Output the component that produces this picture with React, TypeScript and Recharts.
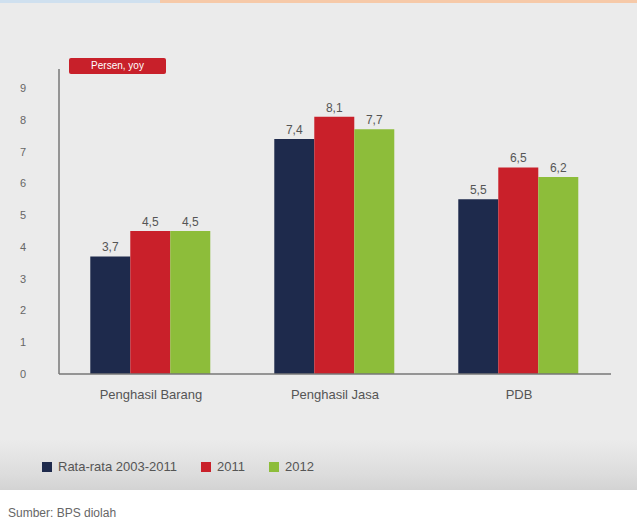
import React from "react";
import { BarChart, Bar, XAxis, YAxis, LabelList } from "recharts";

const categories = ["Penghasil Barang", "Penghasil Jasa", "PDB"];
const rataRata = [3.7, 7.4, 5.5];
const y2011 = [4.5, 8.1, 6.5];
const y2012 = [4.5, 7.7, 6.2];
const yTicks = [0, 1, 2, 3, 4, 5, 6, 7, 8, 9];
const seriesNames = ["Rata-rata 2003-2011", "2011", "2012"];
const seriesKeys = ["a", "b", "c"];
const seriesColors = ["#1e2a4c", "#c9202a", "#8dbd3a"];
const unitLabel = "Persen, yoy";
const sourceText = "Sumber: BPS diolah";

const data = categories.map((name, i) => ({
  name,
  a: rataRata[i],
  b: y2011[i],
  c: y2012[i],
}));

const FONT = '"Liberation Sans Narrow", "Liberation Sans", "Open Sans", sans-serif';
const fmt = (v: any) => String(v).replace(".", ",");

export default function App() {
  return (
    <div
      style={{
        position: "absolute",
        left: 0,
        top: 0,
        width: 637,
        height: 525,
        background: "#ffffff",
        fontFamily: FONT,
        overflow: "hidden",
      }}
    >
      <div style={{ position: "absolute", left: 0, top: 0, width: 637, height: 490, background: "#ebebeb" }} />
      <div style={{ position: "absolute", left: 0, top: 0, width: 160, height: 3, background: "#cfe0ef" }} />
      <div style={{ position: "absolute", left: 160, top: 0, width: 477, height: 3, background: "#f6c9a8" }} />
      <div
        style={{
          position: "absolute",
          left: 0,
          top: 440,
          width: 637,
          height: 50,
          background: "linear-gradient(#ebebeb, #dcdcdc 70%, #d3d3d3)",
        }}
      />
      <div style={{ position: "absolute", left: 0, top: 0 }}>
        <BarChart
          width={637}
          height={525}
          data={data}
          margin={{ top: 69, right: 26, bottom: 121, left: 0 }}
          barCategoryGap="17%"
          barGap={0}
        >
          <XAxis
            dataKey="name"
            height={30}
            tickLine={false}
            axisLine={{ stroke: "#777", strokeWidth: 1.5 }}
            tick={{ fill: "#555", fontSize: 13, fontFamily: FONT }}
            tickMargin={10}
          />
          <YAxis
            width={59}
            domain={[0, 9.6]}
            ticks={yTicks}
            interval={0}
            tickLine={false}
            axisLine={{ stroke: "#777", strokeWidth: 1.5 }}
            tick={{ fill: "#666", fontSize: 11, fontFamily: FONT }}
            tickMargin={27}
          />
          {seriesKeys.map((k, i) => (
            <Bar key={k} dataKey={k} fill={seriesColors[i]} isAnimationActive={false}>
              <LabelList
                dataKey={k}
                position="top"
                formatter={fmt}
                style={{ fill: "#555", fontSize: 12, fontFamily: FONT }}
              />
            </Bar>
          ))}
        </BarChart>
      </div>
      <div
        style={{
          position: "absolute",
          left: 69,
          top: 58,
          width: 97,
          height: 16,
          background: "#c8202a",
          borderRadius: 2,
          color: "#fff",
          fontSize: 10,
          lineHeight: "16px",
          textAlign: "center",
        }}
      >
        {unitLabel}
      </div>
      <div
        style={{
          position: "absolute",
          left: 42,
          top: 459,
          display: "flex",
          alignItems: "center",
          fontSize: 13,
          color: "#555",
        }}
      >
        {seriesNames.map((n, i) => (
          <div key={n} style={{ display: "flex", alignItems: "center", marginRight: 24 }}>
            <div style={{ width: 10, height: 10, background: seriesColors[i], marginRight: 6 }} />
            <span>{n}</span>
          </div>
        ))}
      </div>
      <div style={{ position: "absolute", left: 8, top: 506, fontSize: 12, color: "#666" }}>{sourceText}</div>
    </div>
  );
}
